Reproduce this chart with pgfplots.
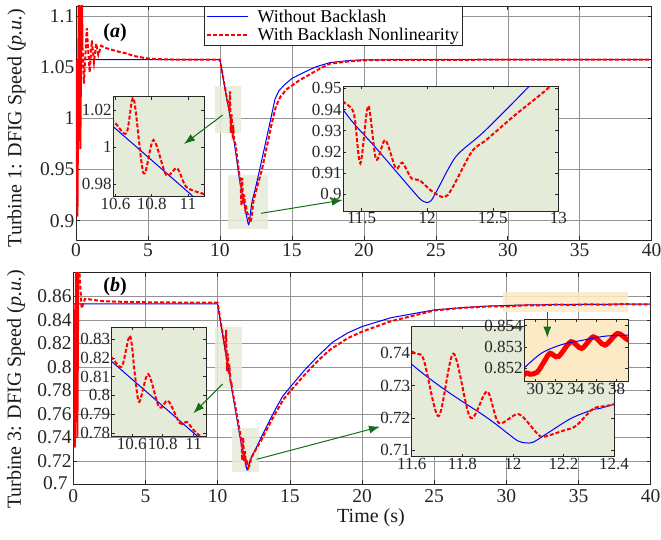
\documentclass[border=0pt]{standalone}
\usepackage{pgfplots}
\pgfplotsset{compat=1.18}
\usepackage{pgfplotstable}
\usepackage{fontspec}
\setmainfont{Liberation Serif}
\usetikzlibrary{arrows.meta}
\definecolor{inbg}{RGB}{229,235,217}
\definecolor{orbg}{RGB}{252,234,198}
\definecolor{darkgr}{RGB}{20,110,20}

% Turbine 1
\pgfplotstableread{
t v
0 1.0573
10 1.0573
10.59 1.0108
11.02 0.9740
11.36 0.9398
11.6 0.9225
11.8 0.9081
11.9 0.9009
11.95 0.8975
11.99 0.8962
12.03 0.8970
12.09 0.9036
12.17 0.9130
12.24 0.9193
12.42 0.9288
12.6 0.9398
12.77 0.9505
13.2 0.978
13.6 1.004
13.83 1.019
14.1 1.027
14.5 1.033
15 1.039
16 1.046
16.7 1.0505
17.65 1.0545
19 1.0565
20 1.0572
25 1.0574
40 1.0574
}\Ablue
\pgfplotstableread{
t v
0 1.0573
0.1 0.904
0.2 1.14
0.3 0.97
0.4 1.14
0.45 1.07
}\Aspike
\pgfplotstableread{
t v
0.45 1.07
0.55 1.034
0.75 1.088
0.95 1.045
1.1 1.076
1.25 1.055
1.4 1.073
1.55 1.062
1.75 1.071
2.0 1.069
2.5 1.067
3 1.065
3.5 1.0635
4 1.061
4.5 1.0597
5 1.0585
6 1.0577
7 1.0574
9.6 1.0573
9.8 1.0573
10 1.0573
10.1 1.0495
10.2 1.042
10.3 1.034
10.4 1.026
10.5 1.018
10.59 1.0137
10.66 1.0074
10.70 1.0263
10.755 0.9858
10.81 1.0038
10.88 0.9849
10.94 0.9885
10.99 0.9785
11.07 0.9750
11.09 0.9740
11.2 0.962
11.3 0.950
11.36 0.9437
11.44 0.9382
11.49 0.9146
11.55 0.9417
11.61 0.9165
11.68 0.9256
11.76 0.9123
11.81 0.9149
11.88 0.9075
11.94 0.9067
12.04 0.9012
12.13 0.8986
12.19 0.9028
12.34 0.9201
12.45 0.9256
12.67 0.9374
12.93 0.9505
13.1 0.962
13.3 0.975
13.6 0.995
13.9 1.012
14.2 1.021
14.6 1.028
15.5 1.037
17 1.049
17.65 1.0535
19 1.0557
20 1.0567
22 1.0572
40 1.0574
}\Ared

% Turbine 3
\pgfplotstableread{
t v
0 0.8538
10 0.8538
10.47 0.8180
11.0 0.7800
11.6 0.7366
11.9 0.7199
11.98 0.7151
12.02 0.7128
12.05 0.7122
12.08 0.7124
12.135 0.7151
12.23 0.7198
12.32 0.7226
12.4 0.7242
13 0.7395
13.5 0.752
14 0.764
14.5 0.775
15 0.7825
16 0.797
17 0.810
18 0.8215
19 0.829
20 0.8345
22 0.842
25 0.8487
28 0.8515
28.95 0.8520
30.65 0.8527
32.6 0.8531
34.58 0.8533
36.86 0.8535
39.15 0.85355
40 0.8536
}\Bblue
\pgfplotstableread{
t v
0 0.8538
0.1 0.7313
0.2 0.90
0.28 0.74
0.36 0.90
}\Bspike
\pgfplotstableread{
t v
0.36 0.90
0.45 0.876
0.58 0.850
0.8 0.858
1.04 0.8578
1.5 0.857
2 0.8562
3 0.8557
5 0.8552
7 0.855
9.6 0.8548
9.8 0.8548
10 0.8548
10.1 0.847
10.2 0.839
10.33 0.830
10.47 0.8201
10.535 0.8153
10.588 0.8317
10.62 0.8109
10.648 0.7965
10.706 0.8113
10.777 0.7936
10.835 0.7971
10.91 0.7853
10.958 0.7857
11.018 0.7800
11.2 0.768
11.4 0.754
11.6 0.7407
11.646 0.7383
11.706 0.7205
11.765 0.7399
11.832 0.7200
11.898 0.7282
11.944 0.7184
12.023 0.7211
12.096 0.7151
12.122 0.7141
12.2 0.7160
12.25 0.7175
12.32 0.7229
12.4 0.7242
12.7 0.731
13 0.737
13.5 0.749
14 0.7605
14.55 0.7723
15 0.779
16 0.793
17 0.806
17.79 0.8148
19 0.8245
20.03 0.8303
22 0.839
25 0.8482
27 0.8505
28.95 0.85169
29.5 0.8517
30.2 0.85179
30.9 0.8523
31.47 0.85269
32.28 0.85253
33.53 0.85324
34.58 0.85292
35.72 0.85347
36.86 0.85308
38.1 0.85363
39.15 0.85332
40 0.8535
}\Bred

\pgfplotsset{
  mainax/.style={scale only axis, anchor=south west, xmin=0, xmax=40,
    xtick={0,5,...,40}, grid=major,
    major grid style={black!42, line width=0.5pt},
    tick align=inside, major tick length=4pt,
    axis line style={black!85, line width=0.8pt},
    tick style={black!85, line width=0.6pt},
    /pgf/number format/assume math mode=true,
    tick label style={font=\fontsize{19.5}{20}\selectfont, text=black!85},
    xticklabel style={inner sep=1pt, yshift=-2.5pt},
    yticklabel style={inner sep=1.5pt},
    label style={font=\fontsize{20}{22}\selectfont, text=black!90}},
  inax/.style={scale only axis, anchor=south west,
    tick align=inside, major tick length=3pt,
    axis background/.style={fill=inbg},
    axis line style={black!85, line width=0.8pt},
    tick style={black!85, line width=0.5pt},
    /pgf/number format/assume math mode=true,
    tick label style={font=\fontsize{17}{18}\selectfont, text=black!85},
    xticklabel style={inner sep=1pt},
    yticklabel style={inner sep=1.5pt}},
  bl/.style={blue, line width=1pt},
  rd/.style={red, line width=2pt, dash pattern=on 4pt off 2pt},
}

\begin{document}
\begin{tikzpicture}
\path[use as bounding box] (0,0) rectangle (661pt,539pt);

% ---------- Top main axis ----------
\begin{axis}[mainax, at={(76pt,299pt)}, width=575.7pt, height=234pt,
  ymin=0.8811, ymax=1.1098,
  ytick={0.9,0.95,1,1.05,1.1}, yticklabels={0.9,0.95,1,1.05,1.1},
  xticklabels={0,5,10,15,20,25,30,35,40},
  ylabel={Turbine 1: DFIG Speed (\textit{p.u.})},
  ylabel style={at={(axis description cs:-0.1034,0.479)}, anchor=center},
  legend style={at={(0.2224,1)}, anchor=north west, draw=black!85, fill=white,
    font=\fontsize{18}{19}\selectfont, inner xsep=2pt, inner ysep=2.5pt,
    nodes={inner sep=1.3pt}, row sep=1pt,
    /tikz/every odd column/.append style={column sep=7pt}},
  legend cell align=left,
  legend image code/.code={\draw[#1] (0pt,0pt) -- (41pt,0pt);},
]
\fill[inbg, fill opacity=0.85] (axis cs:9.66,0.9856) rectangle (axis cs:11.47,1.0316);
\fill[inbg, fill opacity=0.85] (axis cs:10.56,0.8918) rectangle (axis cs:13.34,0.9446);
\addplot[bl] table[x=t,y=v] {\Ablue};
\addlegendentry{Without Backlash}
\addplot[rd] table[x=t,y=v] {\Ared};
\addlegendentry{With Backlash Nonlinearity}
\addplot[red, line width=2pt, forget plot] table[x=t,y=v] {\Aspike};
\end{axis}

% top inset 1
\begin{axis}[inax, at={(113.3pt,342.3pt)}, width=90.7pt, height=100pt,
  xmin=10.588, xmax=11.089, ymin=0.9731, ymax=1.0272,
  xtick={10.6,10.8,11}, xticklabels={10.6,10.8,11},
  ytick={0.98,1,1.02}, yticklabels={0.98,1,1.02}]
\addplot[bl] table[x=t,y=v] {\Ablue};
\addplot[rd, smooth] table[x=t,y=v] {\Ared};
\end{axis}

% top inset 2
\begin{axis}[inax, at={(343.3pt,328pt)}, width=215pt, height=125pt,
  xmin=11.36, xmax=13.0, ymin=0.8921, ymax=0.9511,
  xtick={11.5,12,12.5,13}, xticklabels={11.5,12,12.5,13},
  ytick={0.9,0.91,0.92,0.93,0.94,0.95}, yticklabels={0.9,0.91,0.92,0.93,0.94,0.95}]
\addplot[bl, smooth] table[x=t,y=v] {\Ablue};
\addplot[rd, smooth] table[x=t,y=v] {\Ared};
\end{axis}

% ---------- Bottom main axis ----------
\begin{axis}[mainax, at={(73.3pt,54.7pt)}, width=577.4pt, height=211.6pt,
  ymin=0.7, ymax=0.8804,
  ytick={0.7,0.72,0.74,0.76,0.78,0.8,0.82,0.84,0.86},
  yticklabels={\raisebox{3pt}{0.7}\kern4pt,0.72,0.74,0.76,0.78,0.8,0.82,0.84,0.86},
  xticklabels={0,5,10,15,20,25,30,35,40},
  xticklabel style={yshift=-1.5pt},
  xlabel={Time (s)},
  xlabel style={at={(axis description cs:0.5156,-0.159)}, anchor=center},
  ylabel={Turbine 3: DFIG Speed (\textit{p.u.})},
  ylabel style={at={(axis description cs:-0.0992,0.448)}, anchor=center},
]
\fill[inbg, fill opacity=0.85] (axis cs:9.82,0.7814) rectangle (axis cs:11.67,0.8345);
\fill[inbg, fill opacity=0.85] (axis cs:10.98,0.7101) rectangle (axis cs:12.87,0.7477);
\fill[orbg, fill opacity=0.85] (axis cs:29.8,0.8473) rectangle (axis cs:38.46,0.8637);
\addplot[bl] table[x=t,y=v] {\Bblue};
\addplot[rd] table[x=t,y=v] {\Bred};
\addplot[red, line width=2pt] table[x=t,y=v] {\Bspike};
\end{axis}

% bottom inset 1
\begin{axis}[inax, at={(111.7pt,102.3pt)}, width=94.3pt, height=109.4pt,
  xmin=10.47, xmax=11.08, ymin=0.778, ymax=0.8362,
  xtick={10.6,10.8,11}, xticklabels={10.6,10.8,11},
  ytick={0.78,0.79,0.8,0.81,0.82,0.83}, yticklabels={0.78,0.79,0.8,0.81,0.82,0.83}]
\addplot[bl] table[x=t,y=v] {\Bblue};
\addplot[rd, smooth] table[x=t,y=v] {\Bred};
\end{axis}

% bottom inset 2
\begin{axis}[inax, at={(411.7pt,82.3pt)}, width=202.3pt, height=130.7pt,
  xmin=11.6, xmax=12.4, ymin=0.7079, ymax=0.7485,
  xtick={11.6,11.8,12,12.2,12.4}, xticklabels={11.6,11.8,12,12.2,12.4},
  ytick={0.71,0.72,0.73,0.74}, yticklabels={0.71,0.72,0.73,0.74}]
\addplot[bl, smooth] table[x=t,y=v] {\Bblue};
\addplot[rd, smooth] table[x=t,y=v] {\Bred};
\end{axis}

% bottom inset 3
\begin{axis}[inax, at={(524.3pt,157.3pt)}, width=104pt, height=62.4pt,
  axis background/.style={fill=orbg},
  xmin=28.95, xmax=39.15, ymin=0.85135, ymax=0.8543,
  xtick={30,32,34,36,38}, xticklabels={30,32,34,36,38},
  ytick={0.852,0.853,0.854}, yticklabels={0.852,0.853,0.854}]
\addplot[red, line width=5pt, smooth] table[x=t,y=v] {\Bred};
\addplot[bl, smooth] table[x=t,y=v] {\Bblue};
\end{axis}

% labels (a) (b)
\node[font=\fontsize{20}{22}\selectfont] at (115pt,506pt) {\textbf{(\textit{a})}};
\node[font=\fontsize{20}{22}\selectfont] at (115pt,252pt) {\textbf{(\textit{b})}};

% arrows
\draw[darkgr, line width=1pt, -{Latex[length=11pt,width=8pt]}] (222.7pt,424pt) -- (184pt,395pt);
\draw[darkgr, line width=1pt, -{Latex[length=11pt,width=8pt]}] (261pt,325.7pt) -- (342.7pt,339pt);
\draw[darkgr, line width=1pt, -{Latex[length=11pt,width=8pt]}] (222.7pt,155pt) -- (193.3pt,125.7pt);
\draw[darkgr, line width=1pt, -{Latex[length=11pt,width=8pt]}] (256.7pt,79.7pt) -- (380pt,112.3pt);
\draw[darkgr, line width=1pt, -{Latex[length=11pt,width=8pt]}] (547.3pt,227.3pt) -- (547.3pt,201.3pt);
\end{tikzpicture}
\end{document}
